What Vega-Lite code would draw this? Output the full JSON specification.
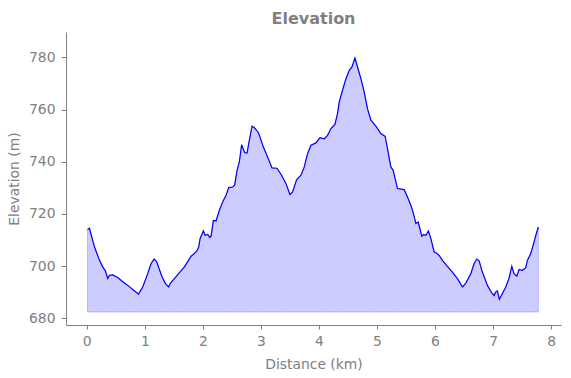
{
  "$schema": "https://vega.github.io/schema/vega-lite/v6.json",
  "width": 495,
  "height": 293,
  "autosize": {"type": "none"},
  "padding": {"left": 66, "top": 32, "right": 10, "bottom": 53},
  "config": {
    "view": {"stroke": null},
    "font": "DejaVu Sans",
    "axis": {
      "grid": false,
      "domainColor": "#808080",
      "tickColor": "#808080",
      "labelColor": "#808080",
      "titleColor": "#808080",
      "labelFont": "DejaVu Sans",
      "titleFont": "DejaVu Sans",
      "labelFontSize": 13.9,
      "titleFontSize": 13.9,
      "titleFontWeight": "normal",
      "labelFlush": false,
      "labelOverlap": false
    }
  },
  "title": {
    "text": "Elevation",
    "fontSize": 16,
    "fontWeight": "bold",
    "color": "#808080",
    "font": "DejaVu Sans",
    "anchor": "middle",
    "baseline": "alphabetic",
    "offset": 10,
    "dy": 18
  },
  "data": {
    "values": [
      {"d": 0.012, "e": 714.0}, {"d": 0.046, "e": 714.5}, {"d": 0.133, "e": 707.3}, {"d": 0.219, "e": 702.2},
      {"d": 0.275, "e": 699.7}, {"d": 0.322, "e": 698.1}, {"d": 0.361, "e": 695.3}, {"d": 0.391, "e": 696.5},
      {"d": 0.448, "e": 696.6}, {"d": 0.534, "e": 695.6}, {"d": 0.620, "e": 694.0}, {"d": 0.706, "e": 692.6},
      {"d": 0.792, "e": 691.0}, {"d": 0.890, "e": 689.3}, {"d": 0.964, "e": 692.0}, {"d": 1.050, "e": 697.1},
      {"d": 1.108, "e": 701.0}, {"d": 1.160, "e": 702.7}, {"d": 1.205, "e": 701.6}, {"d": 1.251, "e": 698.7},
      {"d": 1.298, "e": 695.8}, {"d": 1.355, "e": 693.3}, {"d": 1.411, "e": 692.0}, {"d": 1.435, "e": 693.3},
      {"d": 1.509, "e": 695.2}, {"d": 1.596, "e": 697.5}, {"d": 1.682, "e": 699.7}, {"d": 1.797, "e": 703.8},
      {"d": 1.854, "e": 704.8}, {"d": 1.893, "e": 705.7}, {"d": 1.928, "e": 707.3}, {"d": 1.952, "e": 710.5},
      {"d": 2.009, "e": 713.5}, {"d": 2.038, "e": 711.8}, {"d": 2.083, "e": 712.1}, {"d": 2.117, "e": 711.0},
      {"d": 2.141, "e": 711.4}, {"d": 2.181, "e": 717.5}, {"d": 2.227, "e": 717.3}, {"d": 2.284, "e": 721.4},
      {"d": 2.341, "e": 724.6}, {"d": 2.399, "e": 727.1}, {"d": 2.444, "e": 730.1}, {"d": 2.513, "e": 730.3},
      {"d": 2.547, "e": 731.0}, {"d": 2.589, "e": 736.7}, {"d": 2.628, "e": 739.9}, {"d": 2.668, "e": 746.5},
      {"d": 2.719, "e": 743.5}, {"d": 2.761, "e": 743.3}, {"d": 2.800, "e": 748.2}, {"d": 2.847, "e": 753.6},
      {"d": 2.886, "e": 753.1}, {"d": 2.960, "e": 751.0}, {"d": 3.041, "e": 745.7}, {"d": 3.115, "e": 741.8},
      {"d": 3.191, "e": 737.6}, {"d": 3.277, "e": 737.5}, {"d": 3.356, "e": 734.8}, {"d": 3.432, "e": 731.6},
      {"d": 3.501, "e": 727.4}, {"d": 3.546, "e": 728.4}, {"d": 3.614, "e": 733.1}, {"d": 3.690, "e": 734.8},
      {"d": 3.747, "e": 738.0}, {"d": 3.804, "e": 743.1}, {"d": 3.862, "e": 746.3}, {"d": 3.948, "e": 747.2},
      {"d": 4.017, "e": 749.2}, {"d": 4.091, "e": 748.8}, {"d": 4.148, "e": 750.1}, {"d": 4.207, "e": 752.7},
      {"d": 4.275, "e": 754.3}, {"d": 4.320, "e": 758.4}, {"d": 4.349, "e": 762.9}, {"d": 4.406, "e": 767.4},
      {"d": 4.465, "e": 771.8}, {"d": 4.522, "e": 775.0}, {"d": 4.568, "e": 776.3}, {"d": 4.620, "e": 779.7},
      {"d": 4.664, "e": 776.3}, {"d": 4.723, "e": 771.8}, {"d": 4.780, "e": 766.7}, {"d": 4.836, "e": 760.3},
      {"d": 4.895, "e": 755.9}, {"d": 4.981, "e": 753.6}, {"d": 5.067, "e": 750.8}, {"d": 5.141, "e": 749.7},
      {"d": 5.181, "e": 745.0}, {"d": 5.239, "e": 738.0}, {"d": 5.279, "e": 736.7}, {"d": 5.353, "e": 729.7},
      {"d": 5.468, "e": 729.3}, {"d": 5.525, "e": 726.5}, {"d": 5.583, "e": 723.3}, {"d": 5.628, "e": 720.1},
      {"d": 5.670, "e": 716.3}, {"d": 5.709, "e": 716.9}, {"d": 5.738, "e": 714.4}, {"d": 5.773, "e": 711.4},
      {"d": 5.800, "e": 712.1}, {"d": 5.842, "e": 711.8}, {"d": 5.886, "e": 713.5}, {"d": 5.928, "e": 710.5},
      {"d": 5.985, "e": 705.4}, {"d": 6.024, "e": 705.0}, {"d": 6.071, "e": 704.1}, {"d": 6.127, "e": 702.2},
      {"d": 6.213, "e": 699.9}, {"d": 6.299, "e": 697.7}, {"d": 6.386, "e": 695.2}, {"d": 6.472, "e": 692.0},
      {"d": 6.530, "e": 693.5}, {"d": 6.616, "e": 697.1}, {"d": 6.673, "e": 701.0}, {"d": 6.719, "e": 702.7},
      {"d": 6.759, "e": 702.0}, {"d": 6.816, "e": 697.7}, {"d": 6.902, "e": 692.6}, {"d": 6.978, "e": 689.7},
      {"d": 7.017, "e": 688.7}, {"d": 7.046, "e": 690.1}, {"d": 7.074, "e": 690.5}, {"d": 7.108, "e": 687.3},
      {"d": 7.160, "e": 689.5}, {"d": 7.218, "e": 692.0}, {"d": 7.275, "e": 695.4}, {"d": 7.322, "e": 699.9},
      {"d": 7.361, "e": 697.1}, {"d": 7.408, "e": 696.1}, {"d": 7.448, "e": 698.7}, {"d": 7.504, "e": 698.4},
      {"d": 7.563, "e": 699.4}, {"d": 7.590, "e": 702.2}, {"d": 7.649, "e": 704.8}, {"d": 7.706, "e": 709.3},
      {"d": 7.745, "e": 712.5}, {"d": 7.780, "e": 715.0}
    ]
  },
  "encoding": {
    "x": {
      "field": "d", "type": "quantitative",
      "scale": {"domain": [-0.358, 8.17], "nice": false, "zero": false},
      "axis": {"title": "Distance (km)", "values": [0, 1, 2, 3, 4, 5, 6, 7, 8], "tickSize": 4, "labelPadding": 5, "titlePadding": 10, "format": "d"}
    },
    "y": {
      "field": "e", "type": "quantitative",
      "scale": {"domain": [677.43, 789.7], "nice": false, "zero": false},
      "axis": {"title": "Elevation (m)", "values": [680, 700, 720, 740, 760, 780], "tickSize": 5, "labelPadding": 6, "titlePadding": 7, "format": "d"}
    }
  },
  "layer": [
    {
      "mark": {"type": "area", "fill": "blue", "fillOpacity": 0.2, "stroke": "blue", "strokeOpacity": 0.2, "strokeWidth": 1, "interpolate": "linear"},
      "encoding": {"y2": {"datum": 682.4}}
    },
    {
      "mark": {"type": "line", "color": "blue", "strokeWidth": 1.2, "interpolate": "linear"}
    }
  ]
}
